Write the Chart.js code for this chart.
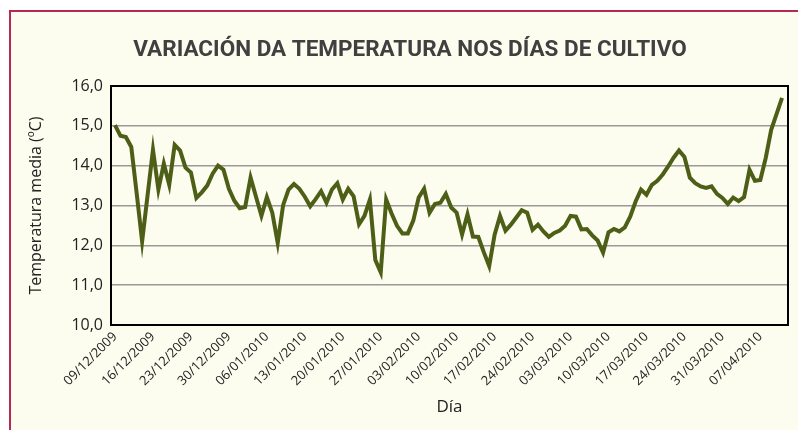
<!DOCTYPE html>
<html>
<head>
<meta charset="utf-8">
<script src="https://cdn.jsdelivr.net/npm/chart.js@4.4.1/dist/chart.umd.min.js"></script>
<style>
html, body { margin: 0; padding: 0; background: #fff; }
#wrap { position: relative; width: 798px; height: 430px; overflow: hidden; }
#frame { position: absolute; left: 9px; top: 10px; width: 800px; height: 430px;
  border-top: 2px solid #b42a55; border-left: 2px solid #b42a55; background: #fcfcef; }
canvas { position: absolute; left: 0; top: 0; }
</style>
</head>
<body>
<div id="wrap">
  <div id="frame"></div>
  <canvas id="tempChart" width="798" height="430"></canvas>
</div>
<script>
// weekly tick labels (one every 7 days)
const weekLabels = ['09/12/2009', '16/12/2009', '23/12/2009', '30/12/2009', '06/01/2010',
  '13/01/2010', '20/01/2010', '27/01/2010', '03/02/2010', '10/02/2010', '17/02/2010',
  '24/02/2010', '03/03/2010', '10/03/2010', '17/03/2010', '24/03/2010', '31/03/2010', '07/04/2010'];

const yTickLabels = ['10,0', '11,0', '12,0', '13,0', '14,0', '15,0', '16,0'];

// daily mean temperature (ºC), from 09/12/2009
const temps = [
  15.02, 14.75, 14.72, 14.47, 13.30, 12.10, 13.25, 14.40, 13.40, 14.05,
  13.52, 14.52, 14.38, 13.95, 13.83, 13.19, 13.33, 13.50, 13.80, 14.00,
  13.90, 13.42, 13.12, 12.93, 12.96, 13.70, 13.22, 12.74, 13.21, 12.82,
  12.06, 13.01, 13.40, 13.54, 13.42, 13.22, 12.98, 13.16, 13.36, 13.07,
  13.40, 13.56, 13.15, 13.42, 13.23, 12.53, 12.74, 13.15, 11.63, 11.32,
  13.15, 12.80, 12.49, 12.30, 12.30, 12.62, 13.20, 13.42, 12.82, 13.04,
  13.07, 13.29, 12.95, 12.82, 12.27, 12.78, 12.22, 12.21, 11.83, 11.48,
  12.27, 12.74, 12.37, 12.52, 12.70, 12.88, 12.82, 12.39, 12.52, 12.35,
  12.21, 12.31, 12.37, 12.49, 12.74, 12.72, 12.40, 12.41, 12.25, 12.12,
  11.82, 12.33, 12.41, 12.35, 12.45, 12.72, 13.10, 13.40, 13.27, 13.52,
  13.62, 13.78, 13.98, 14.20, 14.38, 14.22, 13.70, 13.56, 13.48, 13.44,
  13.48, 13.29, 13.19, 13.04, 13.20, 13.11, 13.21, 13.90, 13.62, 13.64,
  14.20, 14.90, 15.30, 15.70
];

const chartTitle = 'VARIACIÓN DA TEMPERATURA NOS DÍAS DE CULTIVO';

// black box round the plot area + the heading (sits a bit left of plot centre)
const plotBox = {
  id: 'plotBox',
  afterDatasetsDraw(chart) {
    const a = chart.chartArea;
    const ctx = chart.ctx;
    ctx.save();
    ctx.strokeStyle = '#000';
    ctx.lineWidth = 2;
    ctx.strokeRect(a.left, a.top, a.right - a.left, a.bottom - a.top);
    ctx.fillStyle = '#404040';
    ctx.font = 'bold 22.5px Roboto';
    ctx.textAlign = 'center';
    ctx.textBaseline = 'middle';
    ctx.fillText(chartTitle, 410, 50);
    ctx.restore();
  }
};

const ctx = document.getElementById('tempChart').getContext('2d');
const tempChart = new Chart(ctx, {
  type: 'line',
  data: {
    datasets: [{
      label: 'Temperatura media',
      data: temps.map((v, i) => ({ x: i, y: v })),
      borderColor: '#4d5e17',
      borderWidth: 4,
      pointRadius: 0,
      tension: 0,
      fill: false
    }]
  },
  options: {
    responsive: false,
    animation: false,
    layout: { padding: { left: 0, right: 10, top: 86, bottom: 0 } },
    plugins: {
      legend: { display: false },
      tooltip: { enabled: false },
      title: { display: false }
    },
    scales: {
      x: {
        type: 'linear',
        min: -0.74,
        max: 124.1,
        afterBuildTicks: (axis) => {
          axis.ticks = weekLabels.map((l, k) => ({ value: k * 7 }));
        },
        afterFit: (scale) => { scale.height = 105; },
        grid: { display: false, drawTicks: false },
        border: { display: false },
        ticks: {
          autoSkip: false,
          minRotation: 45,
          maxRotation: 45,
          padding: 4,
          color: '#222',
          font: { family: 'Open Sans', size: 13 },
          callback: (value) => weekLabels[Math.round(value / 7)]
        },
        title: {
          display: true,
          text: 'Día',
          color: '#222',
          font: { family: 'Open Sans', size: 17 },
          padding: { top: 0, bottom: 13 }
        }
      },
      y: {
        min: 10,
        max: 16,
        afterFit: (scale) => { scale.width = 111; },
        grid: {
          drawTicks: false,
          lineWidth: 1.5,
          color: (c) => (c.tick && (c.tick.value === 10 || c.tick.value === 16)) ? 'rgba(0,0,0,0)' : '#9a9a9a'
        },
        border: { display: false },
        ticks: {
          stepSize: 1,
          padding: 8,
          color: '#222',
          font: { family: 'Open Sans', size: 16 },
          callback: (value) => yTickLabels[Math.round(value - 10)]
        },
        title: {
          display: true,
          text: 'Temperatura media (ºC)',
          color: '#222',
          font: { family: 'Open Sans', size: 16 },
          padding: { top: 27, bottom: 0 }
        }
      }
    }
  },
  plugins: [plotBox]
});
</script>
</body>
</html>
